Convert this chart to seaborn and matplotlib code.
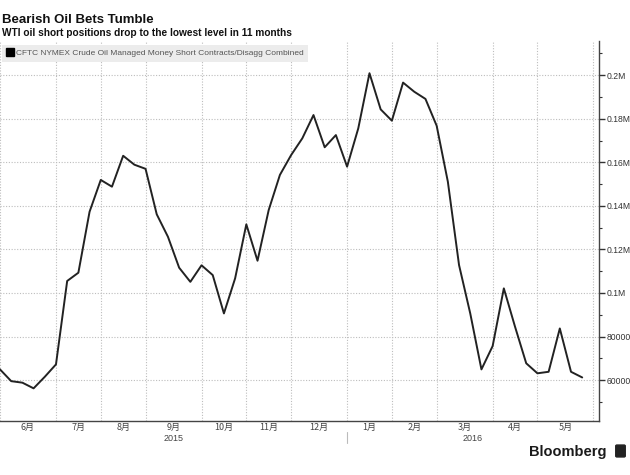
import numpy as np
import pandas as pd
import matplotlib
matplotlib.use("Agg")
import matplotlib.pyplot as plt
from matplotlib.lines import Line2D
from matplotlib.patches import FancyBboxPatch
import seaborn as sns

# Weekly CFTC managed money short positions (Tuesdays)
dates = pd.date_range("2015-06-02", "2016-05-31", freq="W-TUE")
short_contracts = [
    64900, 59500, 58800, 56200, 61500, 67200, 105500, 109300, 137300, 151900,
    148800, 163000, 158900, 157000, 136100, 125800, 111600, 105100, 112700, 108200,
    90600, 106700, 131500, 114800, 138100, 154200, 163300, 171000, 181700, 166900,
    172500, 158000, 175600, 200900, 184300, 179100, 196600, 192400, 189100, 176800,
    151100, 112800, 90600, 64900, 75600, 102100, 84500, 67700, 63100, 63800,
    83700, 63800, 61200,
]

month_labels = ["6月", "7月", "8月", "9月", "10月", "11月", "12月",
                "1月", "2月", "3月", "4月", "5月"]
year_labels = ["2015", "2016"]
y_ticks = [60000, 80000, 100000, 120000, 140000, 160000, 180000, 200000]
y_tick_labels = ["60000", "80000", "0.1M", "0.12M", "0.14M", "0.16M", "0.18M", "0.2M"]
y_minor = [50000, 70000, 90000, 110000, 130000, 150000, 170000, 190000, 210000]

title = "Bearish Oil Bets Tumble"
subtitle = "WTI oil short positions drop to the lowest level in 11 months"
series_name = "CFTC NYMEX Crude Oil Managed Money Short Contracts/Disagg Combined"

df = pd.DataFrame({"date": dates, "short": short_contracts})

sns.set_theme(style="white")
plt.rcParams["font.family"] = ["Liberation Sans", "DejaVu Sans"]
cjk = ["Noto Sans CJK SC", "DejaVu Sans"]

fig = plt.figure(figsize=(6.3, 4.75), dpi=100)
ax = fig.add_axes([0, 1 - 421 / 475, 599 / 630, 380 / 475])

sns.lineplot(data=df, x="date", y="short", color="#222222", lw=1.4, ax=ax, legend=False)

x_left = dates[0]
x_right = dates[0] + pd.Timedelta(weeks=53.5)
ax.set_xlim(x_left, x_right)
ax.set_ylim(41200, 215700)

# month boundaries = first reporting week of each month
weeks = pd.date_range(dates[0], periods=54, freq="7D")
month_starts = [d for i, d in enumerate(weeks) if i == 0 or d.month != weeks[i - 1].month]

ax.set_xticks(month_starts)
ax.set_xticklabels([])
ax.tick_params(axis="x", direction="inout", length=5, width=0.8, color="#555555")

ax.yaxis.tick_right()
ax.set_yticks(y_ticks)
ax.set_yticklabels(y_tick_labels)
ax.set_yticks(y_minor, minor=True)
ax.tick_params(axis="y", which="major", direction="out", length=4, width=1,
               color="#333333", pad=1.5, labelsize=6.2, labelcolor="#333333")
ax.tick_params(axis="y", which="minor", direction="out", length=2.5, width=0.8,
               color="#333333", right=True, left=False)

ax.grid(True, which="major", ls=(0, (1, 1.5)), color="#bdbdbd", lw=0.8)
ax.set_xlabel("")
ax.set_ylabel("")

for side in ["left", "top"]:
    ax.spines[side].set_visible(False)
for side in ["bottom", "right"]:
    ax.spines[side].set_color("#444444")
    ax.spines[side].set_linewidth(1)

# month labels centred in each month span
xt = ax.get_xaxis_transform()
for a, b, lab in zip(month_starts[:-1], month_starts[1:], month_labels):
    mid = a + (b - a) / 2
    ax.text(mid, -0.018, lab, transform=xt, ha="center", va="center",
            fontsize=6.5, color="#444444", family=cjk)

jan = month_starts[7]
ax.text(x_left + (jan - x_left) / 2, -0.046, year_labels[0], transform=xt,
        ha="center", va="center", fontsize=6.5, color="#444444")
ax.text(jan + (x_right - jan) / 2, -0.046, year_labels[1], transform=xt,
        ha="center", va="center", fontsize=6.5, color="#444444")
ax.plot([jan, jan], [-0.028, -0.059], transform=xt, clip_on=False,
        color="#bbbbbb", lw=0.8)

handle = Line2D([], [], marker="s", color="black", ls="none", markersize=5.5)
leg = ax.legend([handle], [series_name], loc="upper left", bbox_to_anchor=(0.004, 0.99),
                frameon=True, facecolor="#ececec", edgecolor="none", framealpha=1,
                fancybox=False, handlelength=0.7, handletextpad=0.4, borderpad=0.55,
                borderaxespad=0, prop={"size": 6.0})
for t in leg.get_texts():
    t.set_color("#555555")

fig.text(2 / 630, 1 - 23 / 475, title, va="baseline", ha="left",
         fontsize=9.5, weight="bold", color="#111111")
fig.text(2 / 630, 1 - 36 / 475, subtitle, va="baseline", ha="left",
         fontsize=7.3, weight="bold", color="#111111")

fig.text(607 / 630, 1 - 456 / 475, "Bloomberg", va="baseline", ha="right",
         fontsize=10.5, weight="bold", color="#1a1a1a")
fig.patches.append(FancyBboxPatch((617 / 630, 1 - 456 / 475), 7 / 630, 10 / 475,
                                  boxstyle="round,pad=0.002", transform=fig.transFigure,
                                  color="#222222"))

fig.savefig("out.png", dpi=100)
